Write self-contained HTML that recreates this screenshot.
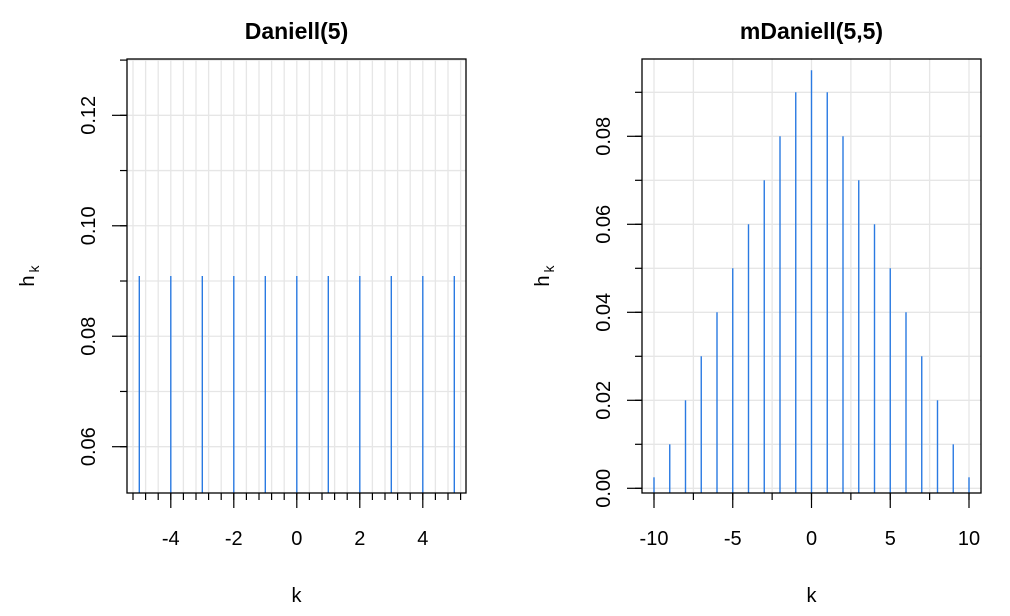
<!DOCTYPE html>
<html><head><meta charset="utf-8"><style>
body{margin:0;background:#fff}
svg{display:block;font-family:"Liberation Sans",Arial,sans-serif}
</style></head><body>
<svg id="c" width="1010" height="616" viewBox="0 0 1010 616"></svg>
<script>
const leftK=[-5,-4,-3,-2,-1,0,1,2,3,4,5];
const leftVals=[0.0909,0.0909,0.0909,0.0909,0.0909,0.0909,0.0909,0.0909,0.0909,0.0909,0.0909];
const leftXTicks=[-4,-2,0,2,4];
const leftYTicks=[0.06,0.08,0.10,0.12];
const rightK=[-10,-9,-8,-7,-6,-5,-4,-3,-2,-1,0,1,2,3,4,5,6,7,8,9,10];
const rightVals=[0.0025,0.01,0.02,0.03,0.04,0.05,0.06,0.07,0.08,0.09,0.095,0.09,0.08,0.07,0.06,0.05,0.04,0.03,0.02,0.01,0.0025];
const rightXTicks=[-10,-5,0,5,10];
const rightYTicks=[0.00,0.02,0.04,0.06,0.08];

const svg=document.getElementById('c');
const NS='http://www.w3.org/2000/svg';
function el(t,a,p){const e=document.createElementNS(NS,t);for(const k in a)e.setAttribute(k,a[k]);(p||svg).appendChild(e);return e;}
function line(x1,y1,x2,y2,st,w,g){return el('line',{x1,y1,x2,y2,stroke:st,'stroke-width':w},g);}
function txt(s,x,y,o,g){const e=el('text',Object.assign({x,y,'text-anchor':'middle','font-size':20,fill:'#000'},o||{}),g);e.textContent=s;return e;}

function panel(cfg){
  const g=el('g',{});
  
  
  const X=v=>cfg.x0+(v-cfg.xa)*cfg.xs, Y=v=>cfg.y0-(v-cfg.ya)*cfg.ys;
  const grid=el('g',{},g);
  
  
  for(let v=cfg.gxs;v<=cfg.gxe+1e-9;v+=cfg.gxStep){const x=X(v);if(x>cfg.L&&x<cfg.R)line(x,cfg.T,x,cfg.B,'#e6e6e6',1.3,grid);}
  for(let v=cfg.gys;v<=cfg.gye+1e-9;v+=cfg.gyStep){const y=Y(v);if(y>cfg.T&&y<cfg.B)line(cfg.L,y,cfg.R,y,'#e6e6e6',1.3,grid);}
  cfg.ks.forEach((k,i)=>{const s=line(X(k),cfg.B,X(k),Y(cfg.vals[i]),'#2a7ae2',1.4,g);
    
    });
  const box=el('rect',{x:cfg.L,y:cfg.T,width:cfg.R-cfg.L,height:cfg.B-cfg.T,fill:'none',stroke:'#000','stroke-width':1.3},g);
  
  
  for(let v=cfg.mxs;v<=cfg.mxe+1e-9;v+=cfg.mxStep){const x=X(v);line(x,cfg.B,x,cfg.B+7,'#000',1.2,g);}
  cfg.xt.forEach(v=>{const x=X(v);line(x,cfg.B,x,cfg.B+15,'#000',1.2,g);
    const t=txt(String(v),x,cfg.B+52,{},g);
    
    });
  for(let v=cfg.mys;v<=cfg.mye+1e-9;v+=cfg.myStep){const y=Y(v);line(cfg.L-7,y,cfg.L,y,'#000',1.2,g);}
  cfg.yt.forEach(v=>{const y=Y(v);line(cfg.L-15,y,cfg.L,y,'#000',1.2,g);
    const t=txt(v.toFixed(2),0,0,{transform:`translate(${cfg.L-32},${y}) rotate(-90)`},g);
    
    });
  const ti=txt(cfg.title,(cfg.L+cfg.R)/2,39,{'font-weight':'bold','font-size':23},g);
  
  
  const xl=txt('k',(cfg.L+cfg.R)/2,602,{},g);
  
  
  const yl=el('text',{transform:`translate(${cfg.L-93},276) rotate(-90)`,'text-anchor':'middle','font-size':20},g);
  
  
  yl.innerHTML='h<tspan font-size="14" dy="5" dx="3">k</tspan>';
}
panel({name:'daniell-panel',title:'Daniell(5)',L:127,R:466,T:59,B:493,x0:296.8,xa:0,xs:31.5,y0:446.7,ya:0.06,ys:5523,
  ks:leftK,vals:leftVals,xt:leftXTicks,yt:leftYTicks,
  gxs:-5.2,gxe:5.2,gxStep:0.4,gys:0.05,gye:0.13,gyStep:0.01,
  mxs:-5.2,mxe:5.2,mxStep:0.4,mys:0.06,mye:0.13,myStep:0.01});
panel({name:'mdaniell-panel',title:'mDaniell(5,5)',L:642,R:981,T:59,B:493,x0:811.5,xa:0,xs:15.75,y0:488.3,ya:0,ys:4400,
  ks:rightK,vals:rightVals,xt:rightXTicks,yt:rightYTicks,
  gxs:-10,gxe:10,gxStep:2.5,gys:0,gye:0.09,gyStep:0.01,
  mxs:-10,mxe:10,mxStep:2.5,mys:0,mye:0.09,myStep:0.01});
</script>
</body></html>
